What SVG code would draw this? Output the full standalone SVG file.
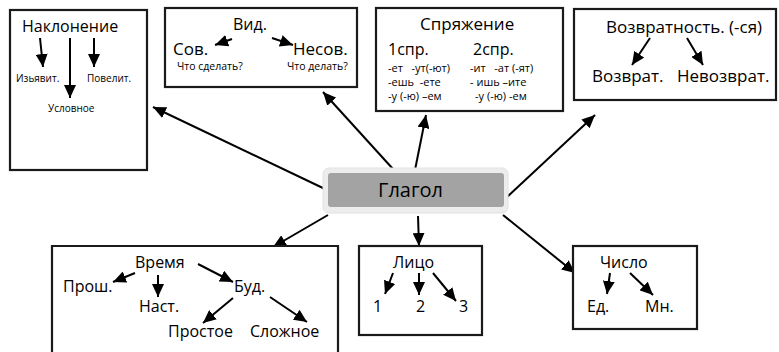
<svg xmlns="http://www.w3.org/2000/svg" width="779" height="352" viewBox="0 0 779 352">
<defs>
<marker id="ah" markerUnits="userSpaceOnUse" markerWidth="14" markerHeight="12" refX="13" refY="6" orient="auto">
<path d="M0,0 L13,6 L0,12 z" fill="#000"/>
</marker>
<style>
.box{fill:#fff;stroke:#1a1a1a;stroke-width:2.2}
.ln{stroke:#000;stroke-width:2;fill:none;marker-end:url(#ah)}
text{font-family:"Open Sans","Liberation Sans",sans-serif;fill:#000}
.h{font-size:17px}
.m{font-size:16px}
.s{font-size:10.5px}
.sp{font-size:11px}
.t{font-size:10px}
</style>
</defs>
<rect width="779" height="352" fill="#fff"/>
<g id="connectors">
<line class="ln" x1="325" y1="189" x2="153" y2="107"/>
<line class="ln" x1="393" y1="169" x2="323" y2="92"/>
<line class="ln" x1="415" y1="170" x2="426" y2="115"/>
<line class="ln" x1="507" y1="197" x2="595" y2="115"/>
<line class="ln" x1="328" y1="215" x2="273" y2="247"/>
<line class="ln" x1="418" y1="216" x2="419" y2="246"/>
<line class="ln" x1="503" y1="215" x2="575" y2="273"/>
</g>
<g id="naklonenie">
<rect class="box" x="10" y="10" width="137" height="160"/>
<text class="m" x="22" y="32">Наклонение</text>
<line class="ln" x1="40" y1="38" x2="43" y2="67"/>
<line class="ln" x1="70" y1="38" x2="70" y2="98"/>
<line class="ln" x1="94" y1="38" x2="94" y2="67"/>
<text class="t" x="16" y="82">Изьявит.</text>
<text class="t" x="87" y="82">Повелит.</text>
<text class="t" x="48" y="112">Условное</text>
</g>
<g id="vid">
<rect class="box" x="165" y="8" width="192" height="79"/>
<text class="m" x="233" y="30">Вид.</text>
<text class="h" x="173" y="55">Сов.</text>
<text class="h" x="293" y="55">Несов.</text>
<text class="s" x="177" y="70">Что сделать?</text>
<text class="s" x="287" y="70">Что делать?</text>
<line class="ln" x1="232" y1="39" x2="215" y2="45"/>
<line class="ln" x1="272" y1="38" x2="293" y2="45"/>
</g>
<g id="spryazhenie">
<rect class="box" x="376" y="8" width="187" height="103"/>
<text class="h" x="420" y="30">Спряжение</text>
<text class="m" x="388" y="55">1спр.</text>
<text class="m" x="473" y="55">2спр.</text>
<text class="sp" x="388" y="72" xml:space="preserve">-ет   -ут(-ют)</text>
<text class="sp" x="470" y="72" xml:space="preserve">-ит   -ат (-ят)</text>
<text class="sp" x="388" y="86" xml:space="preserve">-ешь  -ете</text>
<text class="sp" x="470" y="86">- ишь –ите</text>
<text class="sp" x="388" y="100">-у (-ю) –ем</text>
<text class="sp" x="475" y="100">-у (-ю) -ем</text>
</g>
<g id="vozvratnost">
<rect class="box" x="574" y="9" width="202" height="91"/>
<text class="h" x="606" y="33">Возвратность. (-ся)</text>
<text class="h" x="592" y="82">Возврат.</text>
<text class="h" x="677" y="82">Невозврат.</text>
<line class="ln" x1="650" y1="38" x2="632" y2="65"/>
<line class="ln" x1="687" y1="38" x2="703" y2="65"/>
</g>
<g id="glagol">
<rect x="323" y="168" width="185" height="45" rx="6" fill="#ededed" stroke="#e2e2e2" stroke-width="1"/>
<rect x="328" y="173" width="176" height="34" rx="3" fill="#a3a3a3"/>
<text x="378" y="197" font-size="20">Глагол</text>
</g>
<g id="vremya">
<path class="box" d="M52,353 V246 H338 V353"/>
<text class="m" x="135" y="268">Время</text>
<text class="m" x="63" y="292">Прош.</text>
<text class="m" x="139" y="312">Наст.</text>
<text class="m" x="234" y="292">Буд.</text>
<text class="m" x="168" y="337">Простое</text>
<text class="m" x="250" y="337">Сложное</text>
<line class="ln" x1="135" y1="273" x2="113" y2="282"/>
<line class="ln" x1="158" y1="275" x2="158" y2="297"/>
<line class="ln" x1="198" y1="264" x2="233" y2="282"/>
<line class="ln" x1="233" y1="298" x2="203" y2="323"/>
<line class="ln" x1="270" y1="297" x2="307" y2="322"/>
</g>
<g id="litso">
<rect class="box" x="359" y="246" width="123" height="89"/>
<text class="m" x="393" y="268">Лицо</text>
<text class="m" x="373" y="312">1</text>
<text class="m" x="416" y="312">2</text>
<text class="m" x="459" y="312">3</text>
<line class="ln" x1="393" y1="273" x2="385" y2="294"/>
<line class="ln" x1="419" y1="273" x2="419" y2="295"/>
<line class="ln" x1="433" y1="273" x2="456" y2="301"/>
</g>
<g id="chislo">
<rect class="box" x="573" y="246" width="124" height="83"/>
<text class="m" x="600" y="268">Число</text>
<text class="m" x="587" y="312">Ед.</text>
<text class="m" x="645" y="312">Мн.</text>
<line class="ln" x1="610" y1="273" x2="607" y2="294"/>
<line class="ln" x1="630" y1="273" x2="653" y2="295"/>
</g>
</svg>
